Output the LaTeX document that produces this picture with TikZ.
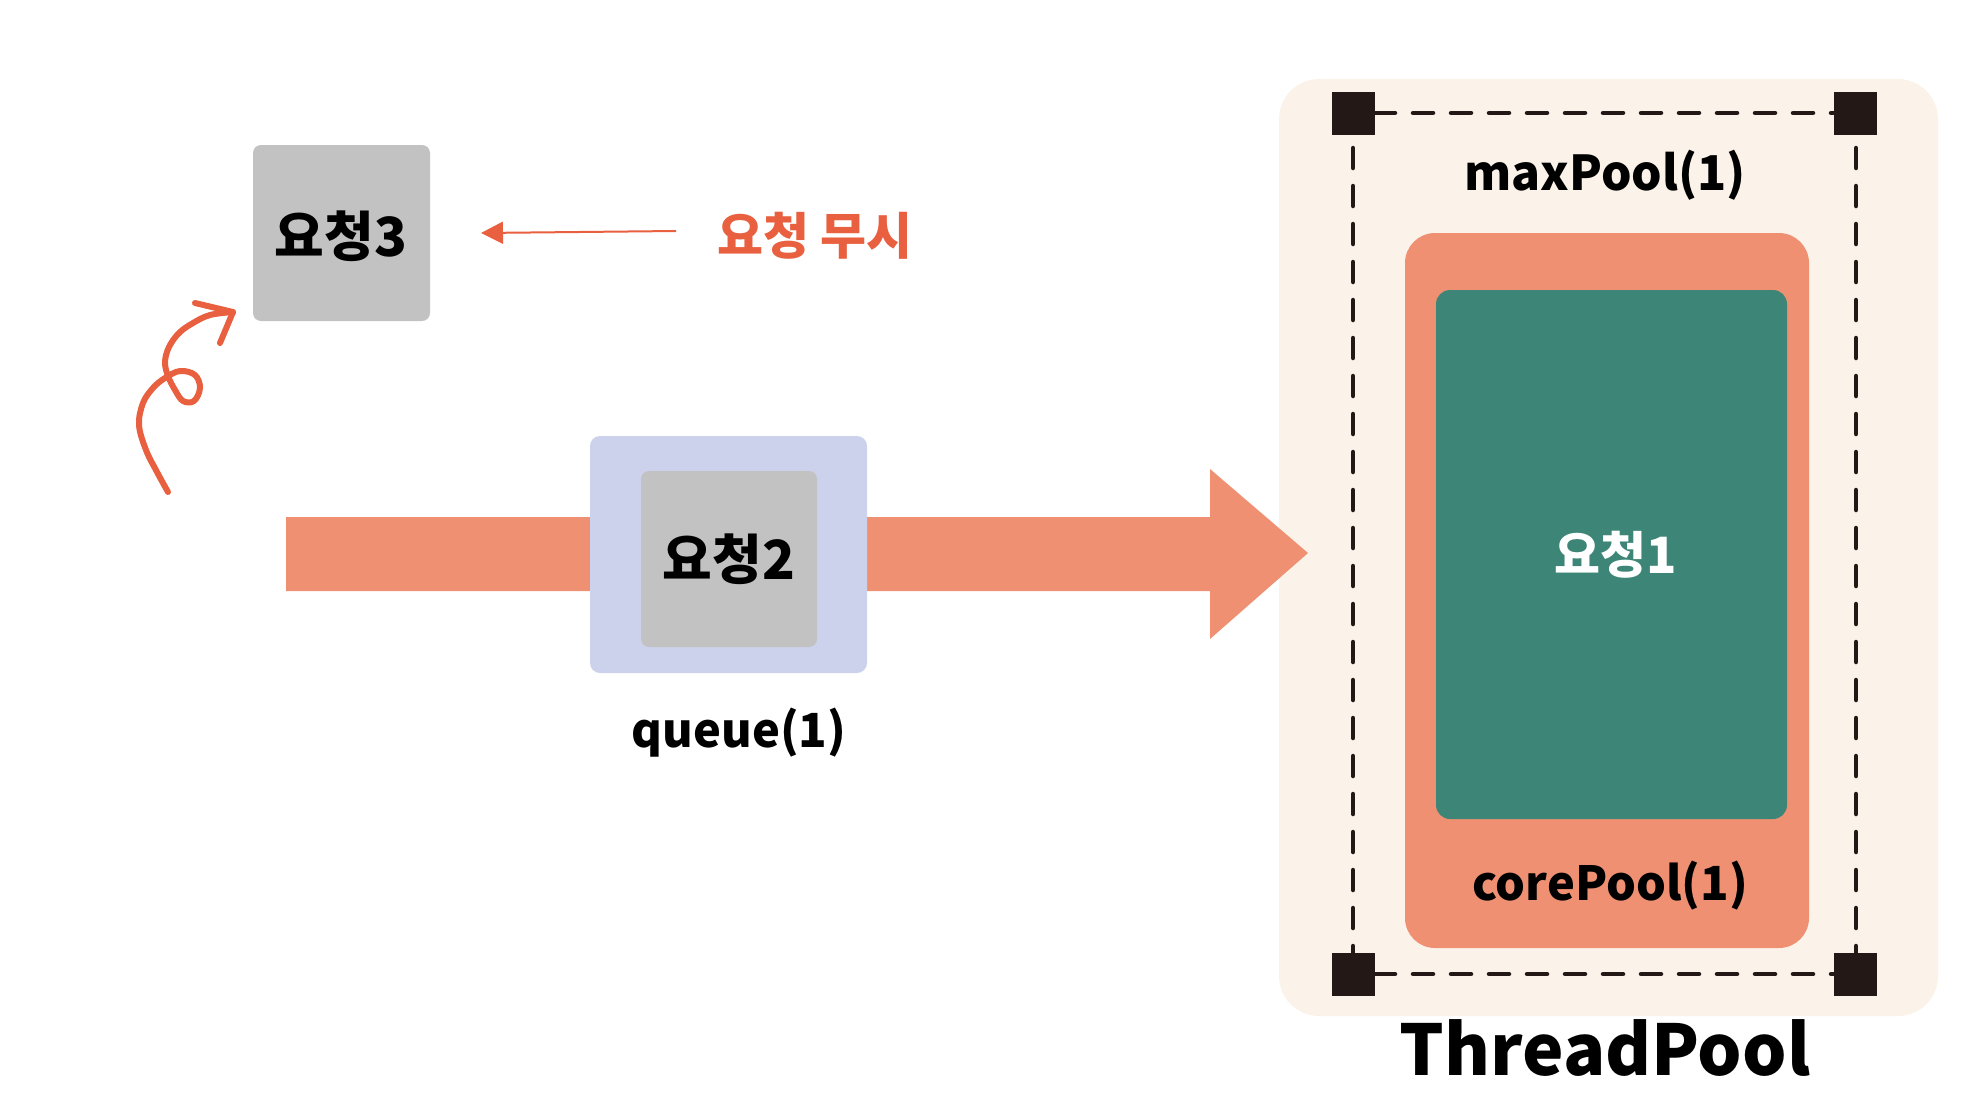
\documentclass[tikz,border=0pt]{standalone}
\usepackage{fontspec}
\setmainfont{Noto Sans CJK KR}
\usetikzlibrary{arrows.meta}
\definecolor{corange}{HTML}{EF9073}
\definecolor{cred}{HTML}{E8603F}
\definecolor{clav}{HTML}{CDD2EC}
\definecolor{cgray}{HTML}{C2C2C2}
\definecolor{ccream}{HTML}{FBF3E9}
\definecolor{cgreen}{HTML}{3D8677}
\definecolor{cblk}{HTML}{231815}
\tikzset{
  req/.style={fill=cgray, rounded corners=8pt, inner sep=0pt},
  lbl/.style={font=\fontsize{47}{50}\selectfont\bfseries, text=black, inner sep=0pt, anchor=base},
  reqtxt/.style={font=\fontsize{54}{58}\selectfont\bfseries, inner sep=0pt},
  cornerbox/.style={fill=cblk, minimum size=43pt, inner sep=0pt},
  dashline/.style={draw=cblk, line width=4.5pt, line cap=round, dash pattern=on 20pt off 18pt},
}
\begin{document}
\begin{tikzpicture}[x=1pt,y=-1pt]
\useasboundingbox (0,0) rectangle (1976,1104);
% request 3
\fill[req] (253,145) rectangle (430,321);
\node[reqtxt] (r3) at (341,236) {요청3};
% ignore label
\node[font=\fontsize{50}{54}\selectfont\bfseries, text=cred, inner sep=0pt] (ign) at (815,236) {요청 무시};
\coordinate (ignS) at (676,231);
\coordinate (ignE) at (481,233);
\draw[cred, line width=2pt, -{Triangle[length=22pt,width=22pt]}] (ignS) -- (ignE);
% curly arrow
\draw[cred, line width=6pt, line cap=round, line join=round] plot[smooth, tension=0.6] coordinates {
 (168,492) (157,472) (146,450) (139,425) (143,403) (153,388) (165,378) (180,371) (195,375) (200,388) (194,401) (183,401) (175,390) (168,376) (165,362) (169,347) (179,333) (193,323) (210,315) (233,312)};
\draw[cred, line width=6pt, line cap=round, line join=round] (195,303) -- (233,312) -- (220,343);
% thread pool background
\fill[ccream, rounded corners=40pt] (1279,79) rectangle (1938,1016);
% big arrow
\fill[corange] (286,517) -- (1210,517) -- (1210,469) -- (1308,553) -- (1210,639) -- (1210,591) -- (286,591) -- cycle;
% queue
\fill[clav, rounded corners=10pt] (590,436) rectangle (867,673);
\fill[req] (641,471) rectangle (817,647);
\node[reqtxt] (r2) at (729,559) {요청2};
\node[lbl] (q) at (739,747) {queue(1)};
% thread pool
\draw[dashline] (1375,113) -- (1833,113);
\draw[dashline] (1375,974) -- (1833,974);
\draw[dashline] (1353,148) -- (1353,953);
\draw[dashline] (1856,148) -- (1856,953);
\node[cornerbox] (c1) at (1353,113) {};
\node[cornerbox] (c2) at (1855,113) {};
\node[cornerbox] (c3) at (1353,974) {};
\node[cornerbox] (c4) at (1855,974) {};
\node[lbl, font=\fontsize{48}{52}\selectfont\bfseries] (mp) at (1605,190) {maxPool(1)};
\fill[corange, rounded corners=30pt] (1405,233) rectangle (1809,948);
\fill[cgreen, rounded corners=14pt] (1436,290) rectangle (1787,819);
\node[reqtxt, text=white, font=\fontsize{50}{54}\selectfont\bfseries] (r1) at (1616,555) {요청1};
\node[lbl] (cp) at (1610,900) {corePool(1)};
\node[font=\fontsize{70}{74}\selectfont\bfseries, inner sep=0pt, anchor=base] (tp) at (1605,1075) {ThreadPool};
\end{tikzpicture}
\end{document}
